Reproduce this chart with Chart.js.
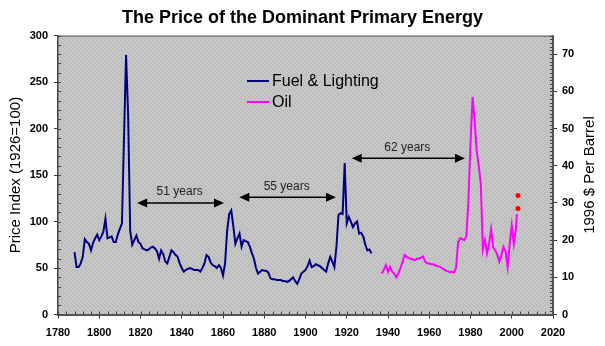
<!DOCTYPE html>
<html>
<head>
<meta charset="utf-8">
<script src="https://cdn.jsdelivr.net/npm/chart.js@4.4.1/dist/chart.umd.min.js"></script>
<style>
  html, body { margin: 0; padding: 0; background: #fff; }
  #wrap { width: 605px; height: 346px; }
</style>
</head>
<body>
<div id="wrap"><canvas id="energyChart" width="605" height="346"></canvas></div>
<script>
// fuel & lighting price index (1926 = 100), left axis
const fuelYears = [1788, 1789, 1790, 1791, 1792, 1793, 1794, 1795, 1796, 1797, 1798, 1799,
  1800, 1801, 1802, 1803, 1804, 1805, 1806, 1807, 1808, 1809, 1810, 1811, 1812, 1813, 1814,
  1815, 1816, 1817, 1818, 1819, 1820, 1821, 1822, 1823, 1824, 1825, 1826, 1827, 1828, 1829,
  1830, 1831, 1832, 1833, 1834, 1835, 1836, 1837, 1838, 1839, 1840, 1841, 1842, 1843, 1844,
  1845, 1846, 1847, 1848, 1849, 1850, 1851, 1852, 1853, 1854, 1855, 1856, 1857, 1858, 1859,
  1860, 1861, 1862, 1863, 1864, 1865, 1866, 1867, 1868, 1869, 1870, 1871, 1872, 1873, 1874,
  1875, 1876, 1877, 1878, 1879, 1880, 1881, 1882, 1883, 1884, 1885, 1886, 1887, 1888, 1889,
  1890, 1891, 1892, 1893, 1894, 1895, 1896, 1897, 1898, 1899, 1900, 1901, 1902, 1903, 1904,
  1905, 1906, 1907, 1908, 1909, 1910, 1911, 1912, 1913, 1914, 1915, 1916, 1917, 1918, 1919,
  1920, 1921, 1922, 1923, 1924, 1925, 1926, 1927, 1928, 1929, 1930, 1931, 1932];
const fuelIndex = [67, 51, 51, 55, 62, 81, 78, 76, 69, 77, 82, 86,
  80, 84, 89, 103, 82, 83, 84, 78, 78, 86, 92, 98, 190, 279, 215,
  90, 75, 80, 85, 78, 76, 71, 70, 69, 70, 72, 73, 71, 68, 60,
  69, 65, 57, 55, 62, 69, 67, 64, 62, 55, 50, 46, 48, 49, 50,
  49, 48, 48, 48, 46, 50, 55, 64, 62, 56, 53, 52, 50, 53, 50,
  42, 55, 90, 108, 112, 95, 76, 82, 87, 73, 80, 79, 78, 73, 66,
  60, 50, 44, 46, 48, 47, 47, 45, 39, 38, 38, 37, 37, 37, 36,
  36, 35, 36, 38, 40, 36, 33, 38, 44, 46, 48, 52, 58, 51, 52,
  54, 53, 52, 50, 48, 46, 55, 62, 57, 51, 73, 107, 109, 108, 163,
  98, 105, 100, 94, 98, 100, 87, 88, 84, 75, 69, 70, 66];

// oil, 1996 $ per barrel, right axis
const oilYears = [1937, 1938, 1939, 1940, 1941, 1942, 1943, 1944, 1945, 1946, 1947, 1948,
  1949, 1950, 1951, 1952, 1953, 1954, 1955, 1956, 1957, 1958, 1959, 1960, 1961, 1962, 1963,
  1964, 1965, 1966, 1967, 1968, 1969, 1970, 1971, 1972, 1973, 1974, 1975, 1976, 1977, 1978,
  1979, 1980, 1981, 1982, 1983, 1984, 1985, 1986, 1987, 1988, 1989, 1990, 1991, 1992, 1993,
  1994, 1995, 1996, 1997, 1998, 1999, 2000, 2001, 2002, 2002.5];
const oilPrice = [11, 12, 13.3, 11.5, 12.8, 11.5, 11, 10, 11, 12.4, 14, 16,
  15.5, 15.2, 15, 14.8, 14.6, 15, 15, 15.3, 15.6, 14.2, 13.8, 13.7, 13.5, 13.5, 13.2,
  13, 12.9, 12.5, 12.2, 11.8, 11.6, 11.4, 11.5, 11.3, 12.5, 19.5, 20.5, 20.3, 20, 21,
  31, 46, 58.5, 52, 44, 40, 35, 17.5, 20, 16.4, 19, 23, 18, 17.3, 16,
  14.2, 16, 18.2, 17, 12.8, 19, 24, 19, 23, 27];

// latest prices, red dots
const recentYears = [2003, 2003];
const recentPrice = [28.5, 32];

const yearTicks = [1780, 1800, 1820, 1840, 1860, 1880, 1900, 1920, 1940, 1960, 1980, 2000, 2020];
const indexTicks = [0, 50, 100, 150, 200, 250, 300];
const barrelTicks = [0, 10, 20, 30, 40, 50, 60, 70];

// arrows between the peaks
const gapLabels = ['51 years', '55 years', '62 years'];
const gapFrom = [1818.4, 1867.9, 1922.4];
const gapTo = [1860.5, 1914.8, 1977.3];
const gapLevel = [120, 126, 168];

const FONT = "'Liberation Sans', Arial, sans-serif";
const tickFont = { family: FONT, size: 11, weight: 'bold' };

function pts(xs, ys) {
  return xs.map((x, i) => ({ x: x, y: ys[i] }));
}

// speckled gray like the old excel plot area
function grayPattern(ctx) {
  const c = document.createElement('canvas');
  c.width = 4; c.height = 4;
  const p = c.getContext('2d');
  p.fillStyle = '#c4c4c4';
  p.fillRect(0, 0, 4, 4);
  p.fillStyle = '#b6b6b6';
  [[0, 0], [2, 1], [1, 2], [3, 3]].forEach(([x, y]) => p.fillRect(x, y, 1, 1));
  p.fillStyle = '#cecece';
  [[2, 0], [0, 3], [3, 1]].forEach(([x, y]) => p.fillRect(x, y, 1, 1));
  return ctx.createPattern(c, 'repeat');
}

// gray plot area, box edges, small inner ticks
const frame = {
  id: 'frame',
  beforeDraw(chart) {
    const { ctx, chartArea: a } = chart;
    ctx.save();
    ctx.fillStyle = grayPattern(ctx);
    ctx.fillRect(a.left, a.top, a.right - a.left, a.bottom - a.top);
    ctx.restore();
  },
  afterDatasetsDraw(chart) {
    const { ctx, chartArea: a, scales } = chart;
    ctx.save();
    ctx.strokeStyle = '#555';
    ctx.lineWidth = 1;
    ctx.beginPath();
    ctx.moveTo(a.left, a.top + 0.5);
    ctx.lineTo(a.right, a.top + 0.5);
    ctx.moveTo(a.right - 0.5, a.top);
    ctx.lineTo(a.right - 0.5, a.bottom);
    ctx.stroke();

    ctx.strokeStyle = '#444';
    ctx.beginPath();
    for (let v = 1780; v <= 2020; v += 4) {
      const x = Math.round(scales.x.getPixelForValue(v)) + 0.5;
      ctx.moveTo(x, a.bottom);
      ctx.lineTo(x, a.bottom - 3);
    }
    for (let v = 0; v <= 300; v += 10) {
      const y = Math.round(scales.y.getPixelForValue(v)) + 0.5;
      ctx.moveTo(a.left, y);
      ctx.lineTo(a.left + 3, y);
    }
    for (let v = 0; v <= 75; v += 1) {
      const y = Math.round(scales.y1.getPixelForValue(v)) + 0.5;
      ctx.moveTo(a.right, y);
      ctx.lineTo(a.right - 3, y);
    }
    ctx.stroke();
    ctx.restore();
  }
};

// year-gap arrows, legend and right axis title
const notes = {
  id: 'notes',
  afterDraw(chart) {
    const { ctx, chartArea: a, scales } = chart;
    ctx.save();
    ctx.strokeStyle = '#000';
    ctx.fillStyle = '#000';
    ctx.lineWidth = 1.5;
    gapLabels.forEach((label, i) => {
      const x0 = scales.x.getPixelForValue(gapFrom[i]);
      const x1 = scales.x.getPixelForValue(gapTo[i]);
      const y = scales.y.getPixelForValue(gapLevel[i]);
      ctx.beginPath();
      ctx.moveTo(x0 + 8, y);
      ctx.lineTo(x1 - 8, y);
      ctx.stroke();
      ctx.beginPath();
      ctx.moveTo(x0, y);
      ctx.lineTo(x0 + 10, y - 4.5);
      ctx.lineTo(x0 + 10, y + 4.5);
      ctx.closePath();
      ctx.moveTo(x1, y);
      ctx.lineTo(x1 - 10, y - 4.5);
      ctx.lineTo(x1 - 10, y + 4.5);
      ctx.closePath();
      ctx.fill();
      ctx.fillStyle = '#222';
      ctx.font = '12px ' + FONT;
      ctx.textAlign = 'center';
      ctx.textBaseline = 'middle';
      ctx.fillText(label, (x0 + x1) / 2 - 1, y - 11);
      ctx.fillStyle = '#000';
    });

    // legend
    const items = chart.data.datasets.filter(d => d.label);
    items.forEach((d, i) => {
      const y = 81 + i * 21;
      ctx.strokeStyle = d.borderColor;
      ctx.lineWidth = 2;
      ctx.beginPath();
      ctx.moveTo(247, y);
      ctx.lineTo(269, y);
      ctx.stroke();
      ctx.fillStyle = '#000';
      ctx.font = '16px ' + FONT;
      ctx.textAlign = 'left';
      ctx.textBaseline = 'middle';
      ctx.fillText(d.label, 272, y + 1);
    });

    // right axis title, reads bottom to top
    ctx.translate(590, (a.top + a.bottom) / 2);
    ctx.rotate(-Math.PI / 2);
    ctx.font = '15px ' + FONT;
    ctx.textAlign = 'center';
    ctx.textBaseline = 'middle';
    ctx.fillStyle = '#000';
    ctx.fillText('1996 $ Per Barrel', 0, 0);
    ctx.restore();
  }
};

new Chart(document.getElementById('energyChart'), {
  type: 'line',
  data: {
    datasets: [{
      label: 'Fuel & Lighting',
      data: pts(fuelYears, fuelIndex),
      yAxisID: 'y',
      borderColor: '#000080',
      borderWidth: 2,
      pointRadius: 0,
      tension: 0
    }, {
      label: 'Oil',
      data: pts(oilYears, oilPrice),
      yAxisID: 'y1',
      borderColor: '#ff00ff',
      borderWidth: 2,
      pointRadius: 0,
      tension: 0
    }, {
      data: pts(recentYears, recentPrice),
      yAxisID: 'y1',
      showLine: false,
      pointRadius: 2.5,
      pointBackgroundColor: '#ff0000',
      pointBorderColor: '#ff0000',
      pointBorderWidth: 0
    }]
  },
  options: {
    responsive: false,
    animation: false,
    devicePixelRatio: 1,
    layout: { padding: 0 },
    plugins: {
      legend: { display: false },
      tooltip: { enabled: false },
      title: {
        display: true,
        text: 'The Price of the Dominant Primary Energy',
        color: '#000',
        font: { family: FONT, size: 18, weight: 'bold' },
        padding: { top: 7, bottom: 7 }
      }
    },
    scales: {
      x: {
        type: 'linear',
        min: 1780,
        max: 2020,
        afterBuildTicks: s => { s.ticks = yearTicks.map(v => ({ value: v })); },
        afterFit: s => { s.height = 31.5; },
        ticks: { font: tickFont, color: '#000', padding: 8, maxRotation: 0, autoSkip: false, callback: v => String(v) },
        grid: { drawOnChartArea: false, drawTicks: true, tickLength: 4, color: '#333' },
        border: { color: '#555', width: 2 }
      },
      y: {
        position: 'left',
        min: 0,
        max: 300,
        afterBuildTicks: s => { s.ticks = indexTicks.map(v => ({ value: v })); },
        afterFit: s => { s.width = 58; },
        title: {
          display: true,
          text: 'Price Index (1926=100)',
          color: '#000',
          font: { family: FONT, size: 15 },
          padding: { top: 7, bottom: 0 }
        },
        ticks: { font: tickFont, color: '#000', padding: 6, callback: v => String(v) },
        grid: { drawOnChartArea: false, drawTicks: true, tickLength: 4, color: '#333' },
        border: { color: '#444', width: 1.5 }
      },
      y1: {
        position: 'right',
        min: 0,
        max: 75,
        afterBuildTicks: s => { s.ticks = barrelTicks.map(v => ({ value: v })); },
        afterFit: s => { s.width = 52; },
        ticks: { font: tickFont, color: '#000', padding: 5, callback: v => String(v) },
        grid: { drawOnChartArea: false, drawTicks: true, tickLength: 4, color: '#333' },
        border: { color: '#555', width: 1 }
      }
    }
  },
  plugins: [frame, notes]
});
</script>
</body>
</html>
